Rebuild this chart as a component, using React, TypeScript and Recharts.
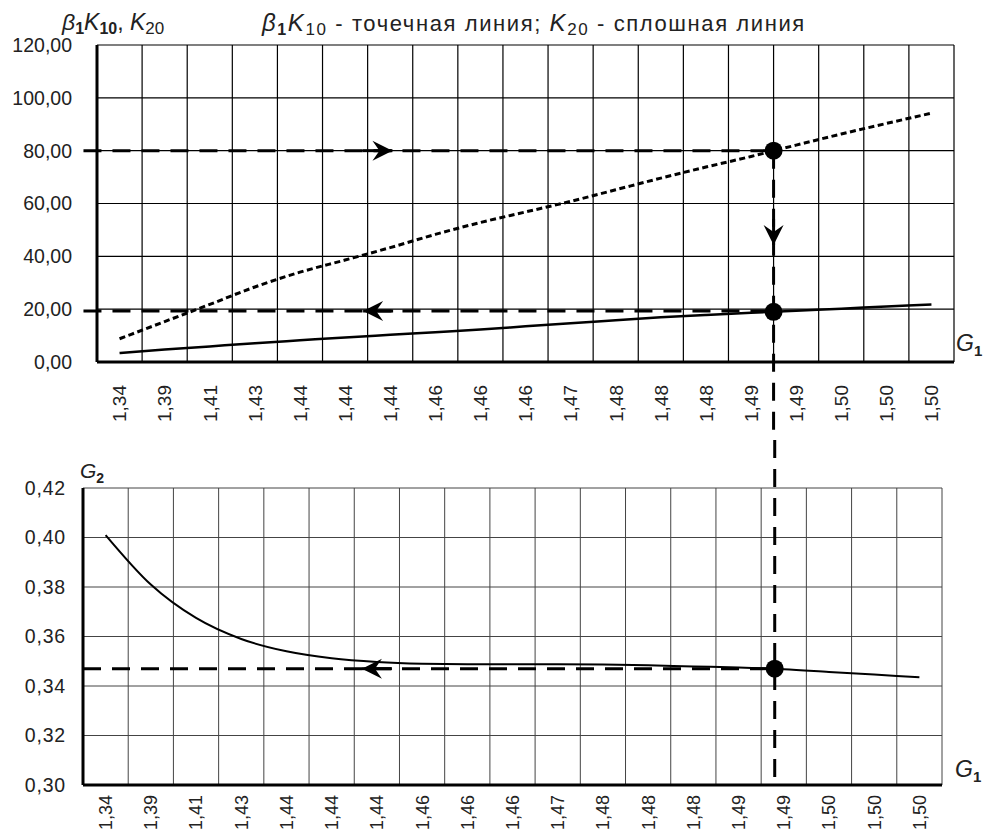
import React from 'react'
import { LineChart, Line, XAxis, YAxis, CartesianGrid, ReferenceLine, ReferenceDot } from 'recharts'

// подписи по оси G1 (одинаковые для обоих графиков)
const categories = [
  '1,34', '1,39', '1,41', '1,43', '1,44', '1,44', '1,44', '1,46', '1,46', '1,46',
  '1,47', '1,48', '1,48', '1,48', '1,49', '1,49', '1,50', '1,50', '1,50',
]

// β1K10 - точечная линия
const beta1K10 = [8.8, 15.3, 21.8, 28.4, 34.0, 38.6, 43.3, 48.3, 52.8, 56.8, 60.8, 65.2, 69.6, 73.8, 77.8, 82.1, 86.3, 90.3, 94.2]
// K20 - сплошная линия
const k20 = [3.4, 4.7, 5.9, 7.1, 8.2, 9.3, 10.3, 11.3, 12.3, 13.5, 14.7, 15.8, 16.9, 17.8, 18.6, 19.4, 20.2, 21.0, 21.8]
// G2
const g2 = [0.401, 0.381, 0.3675, 0.359, 0.354, 0.3512, 0.3497, 0.349, 0.3488, 0.3488, 0.3488, 0.3487, 0.3484, 0.3479, 0.3475, 0.3468, 0.3457, 0.3446, 0.3435]

const topTicks = [0, 20, 40, 60, 80, 100, 120]
const bottomTicks = [0.3, 0.32, 0.34, 0.36, 0.38, 0.4, 0.42]

// рабочая точка и стрелки
const topPoint = { x: 14.5, b: 80, k: 19.0, kLine: 19.3 }
const bottomPoint = { x: 14.8, g: 0.347 }
const topArrows = [
  { x: 6.05, y: 80, dir: 'right' },
  { x: 5.4, y: 19.3, dir: 'left' },
  { x: 14.5, y: 44.3, dir: 'down' },
]
const bottomArrows = [{ x: 5.67, y: 0.347, dir: 'left' }]

const FONT = '"Liberation Sans", Arial, sans-serif'

const topData = categories.map((c, i) => ({ idx: i, b: beta1K10[i], k: k20[i] }))
const bottomData = categories.map((c, i) => ({ idx: i, g: g2[i] }))
const tickIdx = categories.map((_, i) => i)
const bounds = categories.map((_, i) => i + 0.5)

const fmt = (v: number) => v.toFixed(2).replace('.', ',')

function RotTick(props: any) {
  const { x, y, payload, off, size } = props
  const yy = y + off
  return (
    <text
      x={x}
      y={yy}
      transform={`rotate(-90 ${x} ${yy})`}
      textAnchor="end"
      dy="0.36em"
      fontSize={size}
      fontFamily={FONT}
      fill="#222"
    >
      {categories[payload.value]}
    </text>
  )
}

function Arrow(props: any) {
  const { cx, cy, dir } = props
  if (cx == null || cy == null) return null
  let d = ''
  if (dir === 'right') d = `M${cx},${cy} L${cx - 20},${cy - 10} L${cx - 13},${cy} L${cx - 20},${cy + 10} Z`
  if (dir === 'left') d = `M${cx},${cy} L${cx + 20},${cy - 10} L${cx + 13},${cy} L${cx + 20},${cy + 10} Z`
  if (dir === 'down') d = `M${cx},${cy} L${cx - 10},${cy - 20} L${cx},${cy - 13} L${cx + 10},${cy - 20} Z`
  const line =
    dir === 'down'
      ? <line x1={cx} y1={cy - 26} x2={cx} y2={cy} stroke="#000" strokeWidth={3} />
      : <line x1={dir === 'right' ? cx - 30 : cx + 30} y1={cy} x2={cx} y2={cy} stroke="#000" strokeWidth={3} />
  return (
    <g>
      {line}
      <path d={d} fill="#000" />
    </g>
  )
}

const dash = { stroke: '#000', strokeWidth: 3, strokeDasharray: '18 11' }

function TopChart() {
  return (
    <LineChart width={985} height={440} data={topData} margin={{ top: 45, right: 31, left: 0, bottom: 18 }}>
      <CartesianGrid vertical={false} stroke="#000" strokeWidth={1.2} />
      {bounds.map((b) => (
        <ReferenceLine key={b} x={b} stroke="#000" strokeWidth={1.2} />
      ))}
      <XAxis
        type="number"
        dataKey="idx"
        domain={[-0.5, 18.5]}
        ticks={tickIdx}
        interval={0}
        height={60}
        tickLine={false}
        tickSize={0}
        axisLine={{ stroke: '#000', strokeWidth: 3 }}
        tick={(p: any) => <RotTick {...p} off={21} size={19} />}
      />
      <YAxis
        type="number"
        domain={[0, 120]}
        ticks={topTicks}
        width={97}
        tickLine={false}
        tickSize={0}
        tickMargin={25}
        tickFormatter={fmt}
        axisLine={{ stroke: '#000', strokeWidth: 3 }}
        tick={{ fontSize: 19.5, fontFamily: FONT, fill: '#222' }}
      />
      <Line type="monotone" dataKey="b" stroke="#000" strokeWidth={3} strokeDasharray="6 3.5" dot={false} isAnimationActive={false} />
      <Line type="monotone" dataKey="k" stroke="#000" strokeWidth={2.5} dot={false} isAnimationActive={false} />
      <ReferenceLine segment={[{ x: -0.8, y: topPoint.b }, { x: topPoint.x, y: topPoint.b }]} ifOverflow="visible" {...dash} />
      <ReferenceLine segment={[{ x: -0.8, y: topPoint.kLine }, { x: topPoint.x, y: topPoint.kLine }]} ifOverflow="visible" {...dash} />
      <ReferenceLine segment={[{ x: topPoint.x, y: topPoint.b }, { x: topPoint.x, y: -29.5 }]} ifOverflow="visible" {...dash} />
      {topArrows.map((a, i) => (
        <ReferenceDot key={i} x={a.x} y={a.y} r={1} ifOverflow="visible" shape={(p: any) => <Arrow {...p} dir={a.dir} />} />
      ))}
      <ReferenceDot x={topPoint.x} y={topPoint.b} r={9} fill="#000" stroke="none" ifOverflow="visible" />
      <ReferenceDot x={topPoint.x} y={topPoint.k} r={9} fill="#000" stroke="none" ifOverflow="visible" />
    </LineChart>
  )
}

function BottomChart() {
  return (
    <LineChart width={985} height={392} data={bottomData} margin={{ top: 48, right: 43, left: 0, bottom: 0 }}>
      <CartesianGrid vertical={false} stroke="#444" strokeWidth={1} />
      {bounds.map((b) => (
        <ReferenceLine key={b} x={b} stroke="#444" strokeWidth={1} />
      ))}
      <XAxis
        type="number"
        dataKey="idx"
        domain={[-0.5, 18.5]}
        ticks={tickIdx}
        interval={0}
        height={47}
        tickLine={false}
        tickSize={0}
        axisLine={{ stroke: '#000', strokeWidth: 3 }}
        tick={(p: any) => <RotTick {...p} off={8} size={18} />}
      />
      <YAxis
        type="number"
        domain={[0.3, 0.42]}
        ticks={bottomTicks}
        width={83}
        tickLine={false}
        tickSize={0}
        tickMargin={17}
        tickFormatter={fmt}
        axisLine={{ stroke: '#000', strokeWidth: 3 }}
        tick={{ fontSize: 19.5, fontFamily: FONT, fill: '#222', letterSpacing: 0.8 }}
      />
      <Line type="monotone" dataKey="g" stroke="#000" strokeWidth={2} dot={false} isAnimationActive={false} />
      <ReferenceLine segment={[{ x: -0.5, y: bottomPoint.g }, { x: bottomPoint.x, y: bottomPoint.g }]} ifOverflow="visible" {...dash} />
      <ReferenceLine segment={[{ x: bottomPoint.x, y: 0.4394 }, { x: bottomPoint.x, y: 0.3 }]} ifOverflow="visible" {...dash} />
      {bottomArrows.map((a, i) => (
        <ReferenceDot key={i} x={a.x} y={a.y} r={1} ifOverflow="visible" shape={(p: any) => <Arrow {...p} dir={a.dir} />} />
      ))}
      <ReferenceDot x={bottomPoint.x} y={bottomPoint.g} r={9} fill="#000" stroke="none" ifOverflow="visible" />
    </LineChart>
  )
}

export default function App() {
  return (
    <div style={{ position: 'absolute', left: 0, top: 0, width: 985, height: 832, background: '#fff', fontFamily: FONT }}>
      <div style={{ position: 'absolute', left: 0, top: 0 }}>
        <TopChart />
      </div>
      <div style={{ position: 'absolute', left: 0, top: 440 }}>
        <BottomChart />
      </div>
      <svg width={985} height={832} style={{ position: 'absolute', left: 0, top: 0, pointerEvents: 'none' }} fontFamily={FONT} fill="#222">
        <text x={62} y={30} fontSize={23}>
          <tspan fontStyle="italic">β</tspan>
          <tspan dy={4} fontSize={16} fontWeight="bold">1</tspan>
          <tspan dy={-4} fontStyle="italic">K</tspan>
          <tspan dy={4} fontSize={16} fontWeight="bold">10</tspan>
          <tspan dy={-4}>, </tspan>
          <tspan fontStyle="italic">K</tspan>
          <tspan dy={4} fontSize={17}>20</tspan>
        </text>
        <text x={262} y={31} fontSize={22} letterSpacing={1.6}>
          <tspan fontStyle="italic" fontSize={24}>β</tspan>
          <tspan dy={4} fontSize={16} fontWeight="bold">1</tspan>
          <tspan dy={-4} fontStyle="italic" fontSize={24}>K</tspan>
          <tspan dy={4} fontSize={17}>10</tspan>
          <tspan dy={-4}> - точечная линия; </tspan>
          <tspan fontStyle="italic" fontSize={24}>K</tspan>
          <tspan dy={4} fontSize={17}>20</tspan>
          <tspan dy={-4}> - сплошная линия</tspan>
        </text>
        <text x={956} y={351} fontSize={23} fontStyle="italic">
          G<tspan dy={5} fontSize={15} fontWeight="bold" fontStyle="normal">1</tspan>
        </text>
        <text x={80} y={478} fontSize={21} fontStyle="italic">
          G<tspan dy={5} fontSize={14} fontWeight="bold" fontStyle="normal">2</tspan>
        </text>
        <text x={955} y={777} fontSize={23} fontStyle="italic">
          G<tspan dy={5} fontSize={15} fontWeight="bold" fontStyle="normal">1</tspan>
        </text>
      </svg>
    </div>
  )
}
